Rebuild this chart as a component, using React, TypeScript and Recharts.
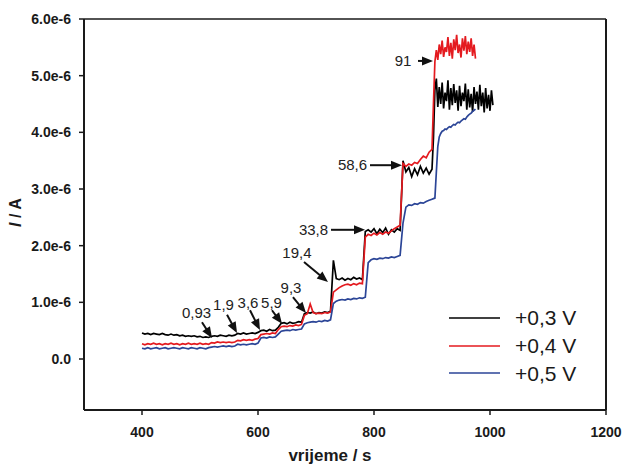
import React from 'react';
import { LineChart, Line, XAxis, YAxis, ReferenceLine, ReferenceDot, Legend } from 'recharts';

// main time grid: 400 s to 900 s, every 5 s; tail grid: 902.5 s to 1005 s, every 2.5 s
const T0 = 400;
const DT = 5;
const TAIL0 = 902.5;
const DT_TAIL = 2.5;

// current in units of 1e-6 A, main grid (400..900 s)
const black03 = [
  0.46, 0.44, 0.45, 0.43, 0.45, 0.44, 0.43, 0.45, 0.43, 0.42, 0.44, 0.42, 0.43, 0.41, 0.42, 0.40, 0.41, 0.40, 0.41, 0.39, 0.40, 0.38, 0.39, 0.38,
  0.40, 0.41, 0.40, 0.42, 0.41, 0.40, 0.42, 0.41, 0.42,
  0.45, 0.44, 0.46, 0.44, 0.45, 0.46, 0.45, 0.47,
  0.50, 0.51, 0.49, 0.52, 0.50, 0.51,
  0.56, 0.63, 0.64, 0.62, 0.65, 0.63, 0.64, 0.66, 0.65,
  0.80, 0.82, 0.81, 0.83, 0.80, 0.82, 0.81, 0.83, 0.82, 0.84,
  1.74, 1.42, 1.40, 1.43, 1.39, 1.42, 1.40, 1.44, 1.41, 1.43, 1.40,
  2.25, 2.28, 2.24, 2.30, 2.21, 2.29, 2.23, 2.31, 2.20, 2.28, 2.24, 2.30, 2.27,
  3.50, 3.30, 3.38, 3.22, 3.36, 3.25, 3.40, 3.28, 3.37, 3.26, 3.35,
];

const red04 = [
  0.27, 0.25, 0.27, 0.26, 0.28, 0.26, 0.27, 0.25, 0.27, 0.26, 0.28, 0.26, 0.27, 0.25, 0.27, 0.26, 0.28, 0.26, 0.27, 0.26, 0.28, 0.26, 0.27, 0.26,
  0.29, 0.28, 0.30, 0.29, 0.30, 0.29, 0.30, 0.29, 0.30,
  0.33, 0.32, 0.34, 0.33, 0.34, 0.33, 0.35, 0.36,
  0.43, 0.44, 0.45, 0.44, 0.46, 0.45,
  0.52, 0.57, 0.58, 0.57, 0.59, 0.58, 0.60, 0.59, 0.61,
  0.77, 0.80, 0.97, 0.82, 0.80, 0.81, 0.80, 0.82, 0.81, 0.83,
  1.18, 1.22, 1.26, 1.29, 1.31, 1.32, 1.30, 1.33, 1.31, 1.34, 1.33,
  2.15, 2.20, 2.18, 2.22, 2.19, 2.23, 2.20, 2.24, 2.22, 2.26, 2.30, 2.33, 2.36,
  3.45, 3.40, 3.44, 3.42, 3.47, 3.45, 3.52, 3.58, 3.55, 3.65, 3.70,
];

const blue05 = [
  0.19, 0.18, 0.20, 0.18, 0.19, 0.20, 0.18, 0.19, 0.20, 0.18, 0.19, 0.20, 0.19, 0.18, 0.20, 0.19, 0.18, 0.20, 0.19, 0.18, 0.20, 0.19, 0.18, 0.20,
  0.21, 0.22, 0.21, 0.22, 0.23, 0.22, 0.23, 0.22, 0.23,
  0.26, 0.25, 0.26, 0.25, 0.26, 0.27, 0.26, 0.28,
  0.37, 0.38, 0.37, 0.39, 0.38, 0.39,
  0.44, 0.49, 0.50, 0.51, 0.50, 0.52, 0.51, 0.52, 0.53,
  0.62, 0.64, 0.65, 0.66, 0.65, 0.67, 0.66, 0.68, 0.67, 0.69,
  0.98, 1.02, 1.04, 1.05, 1.04, 1.06, 1.05, 1.07, 1.06, 1.08, 1.07, 1.09,
  1.70, 1.75, 1.77, 1.76, 1.78, 1.77, 1.79, 1.78, 1.80, 1.79, 1.81, 1.83,
  2.40, 2.68, 2.72, 2.71, 2.74, 2.73, 2.76, 2.75, 2.78, 2.80, 2.82,
];

// tail grid (902.5..1005 s, 2.5 s)
const black03Tail = [
  3.90, 4.75, 4.95, 4.45, 4.80, 4.50, 4.88, 4.42, 4.70, 4.55, 4.92,
  4.40, 4.78, 4.48, 4.85, 4.52, 4.74, 4.38, 4.82, 4.46, 4.70,
  4.55, 4.86, 4.40, 4.76, 4.44, 4.68, 4.36, 4.80, 4.50, 4.72,
  4.40, 4.84, 4.46, 4.70, 4.35, 4.78, 4.42, 4.66, 4.38, 4.74, 4.48,
];
const red04Tail = [
  4.50, 5.25, 5.45, 5.28, 5.55, 5.38, 5.62, 5.33, 5.50, 5.42, 5.68,
  5.35, 5.58, 5.30, 5.64, 5.45, 5.72, 5.40, 5.55, 5.32, 5.66,
  5.44, 5.70, 5.38, 5.60, 5.42, 5.66, 5.35, 5.55, 5.30,
];
const blue05Tail = [
  2.83, 2.84, 3.30, 3.75, 3.92, 3.98, 4.02, 4.03, 4.06, 4.05,
  4.08, 4.10, 4.09, 4.12, 4.14, 4.13, 4.16, 4.18, 4.17, 4.20,
  4.22, 4.24, 4.23, 4.27, 4.30, 4.32, 4.34, 4.37, 4.39, 4.41,
];

const seriesNames = ['+0,3 V', '+0,4 V', '+0,5 V'];
const seriesKeys = ['b', 'r', 'u'];
const seriesColors = ['#000000', '#e41a1f', '#2b4597'];

const xTicks = [400, 600, 800, 1000, 1200];
const yTicks = [0, 1, 2, 3, 4, 5, 6];

// annotations (concentration labels) in data coordinates
const annLabels = ['0,93', '1,9', '3,6', '5,9', '9,3', '19,4', '33,8', '58,6', '91'];
const annText = [[494, 0.81], [540.5, 0.95], [582.8, 0.99], [623.3, 0.99], [656.9, 1.25], [667.2, 1.87], [695.7, 2.28], [763, 3.42], [850, 5.26]];
const annFrom = [[503.4, 0.65], [546.6, 0.78], [586.2, 0.86], [624.1, 0.86], [660.3, 1.09], [679.3, 1.71], [725.9, 2.28], [793.1, 3.42], [875.9, 5.26]];
const annTo = [[520.7, 0.37], [563.8, 0.46], [603.4, 0.51], [641.4, 0.62], [682.8, 0.81], [720.7, 1.36], [784.5, 2.28], [848.3, 3.42], [901.7, 5.26]];

const FONT = 'Arial, "Liberation Sans", Helvetica, sans-serif';
const INK = '#1a1a1a';

const val = (arr: number[], i: number) => (i < arr.length ? arr[i] : null);
const table = [
  ...black03.map((v, i) => ({ t: T0 + i * DT, b: v, r: val(red04, i), u: val(blue05, i) })),
  ...black03Tail.map((v, j) => ({ t: TAIL0 + j * DT_TAIL, b: v, r: val(red04Tail, j), u: val(blue05Tail, j) })),
];

const yFmt = (v: number) => (v === 0 ? '0.0' : `${v.toFixed(1)}e-6`);

const Arrow = (p: any) => {
  const { x1, y1, x2, y2 } = p;
  const dx = x2 - x1;
  const dy = y2 - y1;
  const len = Math.sqrt(dx * dx + dy * dy) || 1;
  const ux = dx / len;
  const uy = dy / len;
  const hl = 11;
  const hw = 4.5;
  const bx = x2 - ux * hl;
  const by = y2 - uy * hl;
  const pts = `${x2},${y2} ${bx - uy * hw},${by + ux * hw} ${bx + uy * hw},${by - ux * hw}`;
  return (
    <g>
      <line x1={x1} y1={y1} x2={bx + ux * 1} y2={by + uy * 1} stroke="#111" strokeWidth={2} />
      <polygon points={pts} fill="#111" />
    </g>
  );
};

const XLabel = (p: any) => {
  const vb = p.viewBox || { x: 84, y: 410, width: 522, height: 58 };
  return (
    <text x={vb.x + vb.width / 2 - 15} y={vb.y + 51} textAnchor="middle" fontFamily={FONT} fontWeight="bold" fontSize={17} fill={INK}>
      vrijeme / s
    </text>
  );
};

const YLabel = (p: any) => {
  const vb = p.viewBox || { x: 0, y: 19, width: 84, height: 391 };
  const cx = vb.x + 21;
  const cy = vb.y + vb.height / 2 - 2;
  return (
    <text x={cx} y={cy} transform={`rotate(-90, ${cx}, ${cy})`} textAnchor="middle" fontFamily={FONT} fontWeight="bold" fontSize={16} fill={INK}>
      <tspan fontStyle="italic">I</tspan>
      <tspan> / A</tspan>
    </text>
  );
};

const renderLegend = () => (
  <div style={{ fontFamily: FONT }}>
    {seriesNames.map((n, i) => (
      <div key={n} style={{ display: 'flex', alignItems: 'center', height: 27.7 }}>
        <svg width={51} height={4} style={{ display: 'block' }}>
          <line x1={0} y1={2} x2={51} y2={2} stroke={seriesColors[i]} strokeWidth={1.5} />
        </svg>
        <span style={{ marginLeft: 15, fontSize: 21, color: INK, lineHeight: '21px', whiteSpace: 'nowrap' }}>{n}</span>
      </div>
    ))}
  </div>
);

export default function App() {
  return (
    <div style={{ position: 'absolute', left: 0, top: 0, width: 625, height: 468, background: '#fff' }}>
      <LineChart width={625} height={468} data={table} margin={{ top: 19, right: 19, bottom: 0, left: 0 }}>
        <XAxis
          dataKey="t"
          type="number"
          domain={[300, 1200]}
          ticks={xTicks}
          height={58}
          tickSize={5}
          tickMargin={12}
          axisLine={{ stroke: INK, strokeWidth: 2 }}
          tickLine={{ stroke: INK, strokeWidth: 1.5 }}
          tick={{ fill: INK, fontSize: 14, fontWeight: 'bold', fontFamily: FONT }}
          label={XLabel}
        />
        <YAxis
          type="number"
          domain={[-0.9, 6]}
          ticks={yTicks}
          width={84}
          tickSize={5}
          tickMargin={8}
          tickFormatter={yFmt}
          axisLine={{ stroke: INK, strokeWidth: 2 }}
          tickLine={{ stroke: INK, strokeWidth: 1.5 }}
          tick={{ fill: INK, fontSize: 14, fontWeight: 'bold', fontFamily: FONT }}
          label={YLabel}
        />
        <ReferenceLine y={6} stroke={INK} strokeWidth={1.5} />
        <ReferenceLine x={1200} stroke={INK} strokeWidth={2} />
        {seriesKeys.map((k, i) => (
          <Line
            key={k}
            dataKey={k}
            name={seriesNames[i]}
            stroke={seriesColors[i]}
            strokeWidth={1.7}
            dot={false}
            type="linear"
            isAnimationActive={false}
          />
        ))}
        {annLabels.map((lab, i) => (
          <ReferenceLine
            key={`a${i}`}
            segment={[
              { x: annFrom[i][0], y: annFrom[i][1] },
              { x: annTo[i][0], y: annTo[i][1] },
            ]}
            shape={Arrow}
          />
        ))}
        {annLabels.map((lab, i) => (
          <ReferenceDot
            key={`t${i}`}
            x={annText[i][0]}
            y={annText[i][1]}
            r={0}
            shape={(p: any) => (
              <text x={p.cx} y={p.cy + 5} textAnchor="middle" fontFamily={FONT} fontSize={15} fill="#222">
                {lab}
              </text>
            )}
          />
        ))}
        <Legend
          layout="vertical"
          verticalAlign="middle"
          align="center"
          wrapperStyle={{ left: 449, top: 304, width: 150, height: 84 }}
          content={renderLegend}
        />
      </LineChart>
    </div>
  );
}
